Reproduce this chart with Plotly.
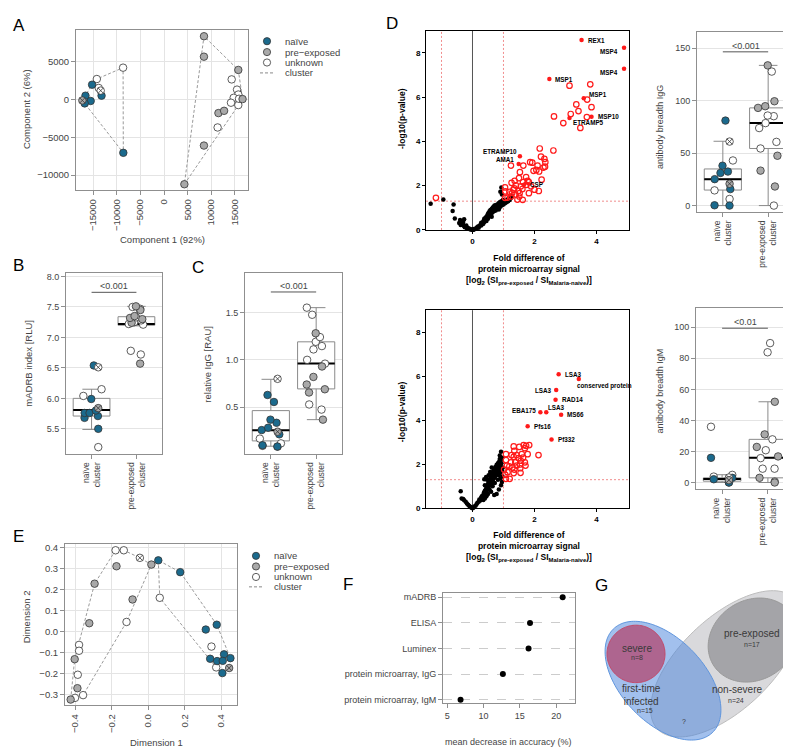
import numpy as np
import plotly.graph_objects as go

W, H = 791, 749
FONT = "Liberation Sans, Arial, sans-serif"
TXT = "#444444"
GL = "#8f8f8f"

# ------------------------------------------------------------------ DATA
# Panel A (PCA)
A_x = [-15200, -16600, -15500, -16760, -13200, -8600,
       8450, 8440, 15700, 16600, 11500, 12700, 8440, 4300,
       -14200, -13800, -8650, 14300, 15430, 15700, 14720, 14150, 15700, 15850, 11330,
       -13380, -17260]
A_y = [1950, 500, -200, -520, 500, -7050,
       8350, 5650, 3900, 50, -1800, -1500, -6090, -11200,
       2700, 1520, 4200, 2650, 1300, 650, 220, -430, -740, 90, -3700,
       1170, -130]
A_grp = ['naive'] * 6 + ['pre'] * 8 + ['unk'] * 11 + ['unk_x', 'pre_x']
A_clu = [1, 1, 1, 1, 1, 1,
         2, 2, 2, 2, 2, 2, 2, 2,
         1, 1, 1, 2, 2, 2, 2, 2, 2, 2, 2,
         1, 1]

# Panel B (mADRB)
B_cat = [1] * 13 + [2] * 16
B_val = [6.15, 6.04, 6.51, 6.54, 5.99, 5.84, 5.80, 5.76, 5.76, 5.71, 5.68, 5.50, 5.20,
         7.50, 7.51, 7.47, 7.32, 7.35, 7.25, 7.21, 6.78, 6.72, 6.57, 7.30, 7.22, 7.45, 7.28, 7.24, 7.33]
B_grp = ['unk', 'unk', 'unk_x', 'naive', 'naive', 'pre_x', 'naive', 'naive', 'naive', 'naive', 'naive', 'naive', 'unk',
         'unk', 'pre', 'unk', 'pre', 'pre', 'unk', 'unk', 'unk', 'unk', 'pre', 'pre', 'unk', 'pre', 'unk', 'pre', 'unk']
B_q1, B_med, B_q3, B_lo, B_hi = [5.71, 7.20], [5.81, 7.22], [6.00, 7.34], [5.49, 7.19], [6.15, 7.51]

# Panel C (relative IgG)
C_cat = [1] * 15 + [2] * 17
C_val = [0.80, 0.63, 0.556, 0.37, 0.337, 0.285, 0.26, 0.243, 0.215, 0.17, 0.12, 0.094, 0.085, 0.087, 0.10,
         1.55, 1.475, 1.28, 1.24, 1.19, 1.145, 1.11, 1.00, 0.96, 0.93, 0.82, 0.74, 0.69, 0.656, 0.53, 0.476, 0.37]
C_grp = ['unk_x', 'naive', 'naive', 'naive', 'naive', 'naive', 'naive', 'pre_x', 'naive', 'unk', 'unk', 'unk', 'unk', 'naive', 'naive',
         'unk', 'unk', 'pre', 'unk', 'unk', 'unk', 'unk', 'unk', 'unk', 'pre', 'pre', 'pre', 'pre', 'pre', 'unk', 'unk', 'pre']
C_q1, C_med, C_q3, C_lo, C_hi = [0.146, 0.694], [0.257, 0.962], [0.465, 1.19], [0.09, 0.37], [0.795, 1.55]

# Panel D right top (antibody breadth IgG)
G1_cat = [1] * 13 + [2] * 15
G1_val = [81, 61, 43, 38, 32.4, 31.1, 25.2, 20.8, 15.7, 14.5, 6.3, 0.3, 0,
          133.6, 127.7, 99.4, 93.1, 94.7, 85.8, 85.2, 78.6, 73.9, 60.7, 54.4, 47.5, 33.3, 18.2, 0]
G1_grp = ['naive', 'unk_x', 'unk', 'naive', 'naive', 'naive', 'naive', 'pre_x', 'naive', 'unk', 'unk', 'naive', 'naive',
          'pre', 'unk', 'pre', 'pre', 'pre', 'unk', 'unk', 'unk', 'unk', 'unk', 'unk', 'pre', 'pre', 'pre', 'unk']
G1_q1, G1_med, G1_q3, G1_lo, G1_hi = [14.8, 54.4], [25.2, 78.6], [34.9, 93.1], [0, 0], [61.3, 133.6]

# Panel D right bottom (antibody breadth IgM)
M1_cat = [1] * 10 + [2] * 14
M1_val = [35.9, 15.9, 2.1, 3.8, 3.0, 0, 0, 1.5, 3.2, 4.9,
          89.8, 83.9, 52, 31, 27.8, 22.9, 20.8, 16.8, 15.7, 8.9, 8.9, 3, 0, 0.6]
M1_grp = ['unk', 'naive', 'naive', 'unk', 'naive', 'naive', 'unk', 'pre_x', 'unk_x', 'unk',
          'unk', 'unk', 'pre', 'pre', 'unk', 'pre', 'unk', 'pre', 'unk', 'unk', 'unk', 'pre', 'pre', 'unk']
M1_q1, M1_med, M1_q3, M1_lo, M1_hi = [0.85, 3.0], [2.3, 15.9], [3.0, 27.8], [0, 0], [5.0, 52]

# Panel D volcano top (IgG)
Dt_black = [(-1.35, 1.18), (-0.94, 1.37), (-0.61, 1.15), (-0.64, 0.85), (-0.57, 0.52), (-0.40, 0.45), (-0.27, 0.48),
            (-0.30, 0.36), (-0.43, 0.31), (-0.35, 0.25), (-0.27, 0.18), (-0.22, 0.14), (-0.16, 0.10), (-0.11, 0.06),
            (-0.05, 0.02), (-0.20, 0.20), (-0.32, 0.30), (-0.38, 0.22), (-0.25, 0.12), (-0.08, 0.03), (-0.14, 0.05),
            (-0.18, 0.08), (0.00, 0.00), (0.03, 0.01), (0.06, 0.03), (0.10, 0.05), (0.02, 0.04),
            (0.12, 0.08), (0.15, 0.12), (0.18, 0.15), (0.20, 0.10), (0.22, 0.18), (0.25, 0.22), (0.28, 0.20),
            (0.30, 0.30), (0.32, 0.26), (0.34, 0.35), (0.36, 0.42), (0.38, 0.36), (0.40, 0.48), (0.42, 0.44),
            (0.42, 0.55), (0.45, 0.60), (0.46, 0.52), (0.48, 0.66), (0.50, 0.58), (0.50, 0.72), (0.52, 0.78),
            (0.54, 0.68), (0.55, 0.84), (0.57, 0.75), (0.58, 0.90), (0.60, 0.82), (0.62, 0.95), (0.63, 0.88),
            (0.65, 1.00), (0.66, 0.92), (0.68, 1.05), (0.70, 0.97), (0.71, 1.10), (0.73, 1.02), (0.75, 1.12),
            (0.76, 0.95), (0.78, 1.06), (0.80, 1.15), (0.82, 1.08), (0.84, 1.20), (0.85, 1.00), (0.87, 1.12),
            (0.88, 1.25), (0.90, 1.05), (0.92, 1.18), (0.93, 1.30), (0.95, 1.12), (0.97, 1.22), (0.98, 1.35),
            (1.00, 1.15), (1.02, 1.28), (1.05, 1.20), (1.08, 1.32), (1.10, 1.25), (1.12, 1.38), (1.15, 1.30),
            (1.18, 1.42), (1.20, 1.35), (1.25, 1.45), (1.28, 1.52), (0.93, 1.92), (0.90, 1.73), (0.95, 1.60),
            (0.45, 0.40), (0.35, 0.28), (0.60, 0.70), (0.70, 0.85), (0.80, 0.95), (0.55, 0.62), (0.65, 0.80),
            (0.75, 0.88), (0.85, 0.92), (0.28, 0.32), (0.38, 0.50), (0.50, 0.50), (0.62, 0.60)]
Dt_open = [(3.13, 6.52), (3.80, 6.58), (3.70, 5.89), (3.84, 5.55), (3.35, 5.67), (3.17, 5.24), (3.42, 5.37),
           (2.63, 5.13), (3.69, 5.10), (2.93, 4.83), (3.48, 4.61), (2.17, 3.68), (2.61, 3.59), (1.24, 2.91),
           (1.64, 2.91), (1.86, 3.06), (1.93, 3.04), (2.21, 3.31), (2.32, 3.21), (2.35, 3.06), (2.10, 2.91),
           (2.29, 2.82), (2.06, 2.71), (2.15, 2.64), (2.34, 2.86), (1.97, 2.67), (1.53, 2.61), (1.50, 2.34),
           (1.36, 2.22), (1.26, 2.13), (1.40, 2.01), (1.73, 2.39), (1.78, 2.22), (1.82, 2.16), (1.74, 2.04),
           (2.23, 2.27), (2.14, 1.76), (1.82, 1.66), (1.61, 1.85), (1.48, 1.76), (1.39, 1.60), (1.51, 1.51),
           (1.05, 1.92), (1.06, 1.74), (1.05, 1.45), (1.13, 1.46), (1.24, 1.51), (1.32, 1.82), (1.45, 1.37),
           (1.62, 1.36), (1.19, 1.72), (1.28, 1.67), (1.52, 1.66), (1.56, 1.97), (1.63, 2.16), (2.00, 1.82),
           (1.89, 1.97), (1.35, 1.88), (-1.18, 1.45)]
Dt_sig = [(3.52, 8.58), (4.89, 8.23), (4.89, 7.29), (2.48, 6.82), (3.59, 5.95), (3.84, 5.12), (3.13, 5.06),
          (1.53, 3.33), (1.49, 2.98), (1.66, 2.04)]
Dt_lab = ["REX1", "MSP4", "MSP4", "MSP1", "MSP1", "MSP10", "ETRAMP5", "ETRAMP10", "AMA1", "CSP"]

# Panel D volcano bottom (IgM)
Db_black = [(-0.38, 0.78), (-0.35, 0.45), (-0.30, 0.42), (-0.27, 0.37), (-0.22, 0.30), (-0.18, 0.22), (-0.14, 0.16),
            (-0.10, 0.10), (-0.06, 0.06), (-0.03, 0.02), (0.00, 0.00), (0.03, 0.03), (0.06, 0.08), (0.10, 0.12),
            (0.13, 0.18), (0.16, 0.25), (0.20, 0.30), (0.22, 0.40), (0.25, 0.35), (0.28, 0.48), (0.30, 0.55),
            (0.32, 0.45), (0.35, 0.62), (0.37, 0.72), (0.38, 0.55), (0.40, 0.80), (0.42, 0.68), (0.44, 0.90),
            (0.45, 0.78), (0.47, 1.00), (0.48, 0.85), (0.50, 1.10), (0.50, 0.95), (0.52, 1.20), (0.53, 1.02),
            (0.55, 1.30), (0.56, 1.12), (0.58, 1.40), (0.58, 1.05), (0.60, 1.22), (0.60, 1.50), (0.62, 1.35),
            (0.63, 1.15), (0.64, 1.60), (0.65, 1.45), (0.66, 1.28), (0.67, 1.70), (0.68, 1.52), (0.70, 1.38),
            (0.70, 1.80), (0.72, 1.60), (0.73, 1.45), (0.74, 1.88), (0.75, 1.70), (0.76, 1.55), (0.78, 1.98),
            (0.78, 1.75), (0.80, 1.60), (0.80, 1.85), (0.82, 2.05), (0.83, 1.70), (0.84, 1.92), (0.85, 1.50),
            (0.86, 2.12), (0.87, 1.78), (0.88, 2.24), (0.90, 1.95), (0.90, 1.62), (0.92, 2.57), (0.93, 2.05),
            (0.95, 1.72), (0.96, 2.30), (0.97, 1.45), (0.98, 1.85), (0.45, 0.55), (0.35, 0.38), (0.55, 0.85),
            (0.65, 1.00), (0.72, 1.15), (0.82, 1.30), (0.90, 1.35), (0.40, 1.05), (0.70, 0.60), (0.78, 0.65),
            (0.85, 0.85), (0.92, 1.05), (0.95, 1.20), (0.60, 0.75), (0.50, 0.65), (0.40, 0.45), (0.88, 2.40),
            (0.91, 2.18), (0.38, 1.32), (0.44, 1.42), (0.47, 1.30), (0.52, 1.50), (0.57, 1.65), (0.62, 1.85)]
Db_open = [(1.33, 2.81), (1.51, 2.79), (1.65, 2.87), (1.73, 2.84), (1.83, 2.87), (1.69, 2.73), (2.13, 2.42),
           (1.78, 2.46), (1.26, 2.42), (1.33, 2.34), (1.42, 2.42), (1.49, 2.28), (1.63, 2.30), (1.56, 2.16),
           (1.69, 2.09), (1.53, 1.99), (1.38, 2.09), (1.24, 2.09), (1.08, 2.19), (1.08, 2.46), (1.11, 1.94),
           (1.02, 1.76), (1.19, 1.91), (1.29, 1.85), (1.35, 1.76), (1.13, 1.64), (1.33, 1.60), (1.55, 1.61),
           (1.71, 1.94), (1.54, 1.82), (1.20, 1.34), (1.08, 1.34), (1.06, 1.52), (1.43, 1.94), (1.59, 2.46),
           (1.35, 2.61)]
Db_sig = [(2.78, 6.09), (3.43, 5.87), (2.70, 5.37), (2.68, 4.93), (2.38, 4.36), (2.19, 4.36), (2.86, 4.25),
          (1.78, 3.73), (2.55, 3.13)]
Db_lab = ["LSA3", "conserved protein", "LSA3", "RAD14", "LSA3", "EBA175", "MS66", "Pfs16", "Pf332"]

# Panel E (MDS)
E_x = [0.056, 0.176, 0.316, 0.376, 0.416, 0.451, 0.34, 0.378, 0.409, 0.407,
       0.018, -0.173, -0.293, -0.085, -0.322, -0.402, -0.387, -0.424,
       -0.178, -0.133, 0.064, -0.118, -0.378, -0.378, -0.385, -0.356, -0.40, 0.347, 0.373,
       -0.045, 0.444]
E_y = [0.338, 0.282, 0.009, 0.032, -0.109, -0.127, -0.13, -0.141, -0.14, -0.198,
       0.318, 0.31, 0.227, 0.152, 0.039, -0.132, -0.27, -0.324,
       0.386, 0.386, 0.16, 0.045, -0.064, -0.092, -0.206, -0.303, -0.316, -0.072, -0.171,
       0.35, -0.174]
E_grp = ['naive'] * 10 + ['pre'] * 8 + ['unk'] * 11 + ['unk_x', 'pre_x']
E_clu = [2] * 10 + [1] * 8 + [1, 1, 2, 1, 1, 1, 1, 1, 1, 2, 2] + [1, 2]

# Panel F (variable importance)
F_labels = ["protein microarray, IgM", "protein microarray, IgG", "Luminex", "ELISA", "mADRB"]
F_values = [6.83, 12.66, 16.2, 16.4, 20.9]

# Panel G (Venn)
G_names = ["non-severe", "pre-exposed", "first-time<br>infected", "severe"]
G_n = [24, 17, 15, 8]

# ------------------------------------------------------------------ STYLE / LAYOUT GEOMETRY
COL = {'naive': '#1b6a8d', 'pre': '#a9a9a9', 'unk': '#ffffff', 'unk_x': '#ffffff', 'pre_x': '#a9a9a9'}
SYM = {'naive': 'circle', 'pre': 'circle', 'unk': 'circle', 'unk_x': 'circle-x', 'pre_x': 'circle-x'}
CAT_TEXT = ["naïve<br>cluster", "pre-exposed<br>cluster"]

# pixel boxes: (left, right, top, bottom)
BOX = {1: (68, 240, 20, 182), 2: (58, 154, 265, 448), 3: (237, 334, 265, 448),
       4: (418, 621, 21, 222), 5: (689, 786, 22, 204), 6: (418, 621, 303, 503),
       7: (688, 786, 301, 484), 8: (57, 229, 539, 702), 9: (435, 567, 589, 700)}


def dom(n):
    l, r, t, b = BOX[n]
    return [l / W, r / W], [1 - b / H, 1 - t / H]


def refs(n):
    return ('x', 'y') if n == 1 else (f'x{n}', f'y{n}')


def gaxis(d, rng, grid=True, size=9.5, **kw):
    a = dict(domain=d, range=rng, showline=True, linecolor=GL, linewidth=1, mirror=True,
             ticks='outside', ticklen=4, tickwidth=1, tickcolor=GL,
             tickfont=dict(family=FONT, size=size, color=TXT), showgrid=grid,
             gridcolor='#e4e4e4', gridwidth=1, zeroline=False, fixedrange=True)
    a.update(kw)
    return a


def vaxis(d, rng, tv):
    return dict(domain=d, range=rng, showline=True, linecolor='black', linewidth=1, mirror=True,
                ticks='outside', ticklen=3, tickcolor='black', tickvals=tv,
                tickfont=dict(family=FONT, size=8, color='black', weight='bold'),
                showgrid=False, zeroline=False)


def hull(pts):
    pts = sorted(set(pts))

    def cross(o, a, b):
        return (a[0] - o[0]) * (b[1] - o[1]) - (a[1] - o[1]) * (b[0] - o[0])
    lower, upper = [], []
    for p in pts:
        while len(lower) >= 2 and cross(lower[-2], lower[-1], p) <= 0:
            lower.pop()
        lower.append(p)
    for p in reversed(pts):
        while len(upper) >= 2 and cross(upper[-2], upper[-1], p) <= 0:
            upper.pop()
        upper.append(p)
    h = lower[:-1] + upper[:-1]
    return h + [h[0]]


fig = go.Figure()


def mk(g, size=7.5):
    return dict(color=COL[g], symbol=SYM[g], size=size, line=dict(color='#333333', width=0.8))


def scatter_panel(n, xs, ys, grp, clu):
    xa, ya = refs(n)
    for c in sorted(set(clu)):
        h = hull([(x, y) for x, y, k in zip(xs, ys, clu) if k == c])
        fig.add_trace(go.Scatter(x=[p[0] for p in h], y=[p[1] for p in h], mode='lines',
                                 line=dict(color='#9a9a9a', width=1, dash='3px,2px'),
                                 xaxis=xa, yaxis=ya, hoverinfo='skip'))
    for g in ['unk', 'pre', 'naive', 'unk_x', 'pre_x']:
        px = [x for x, k in zip(xs, grp) if k == g]
        py = [y for y, k in zip(ys, grp) if k == g]
        fig.add_trace(go.Scatter(x=px, y=py, mode='markers', marker=mk(g), xaxis=xa, yaxis=ya))


def box_panel(n, cat, val, grp, q1, med, q3, lo, hi):
    xa, ya = refs(n)
    fig.add_trace(go.Box(x=[1, 2], q1=q1, median=med, q3=q3, lowerfence=lo, upperfence=hi,
                         width=0.82, whiskerwidth=0.5, fillcolor='white', boxpoints=False,
                         line=dict(color='#8a8a8a', width=1), xaxis=xa, yaxis=ya))
    fig.add_trace(go.Box(x=[1, 2], q1=med, median=med, q3=med, lowerfence=med, upperfence=med,
                         width=0.82, whiskerwidth=0, fillcolor='rgba(0,0,0,0)', boxpoints=False,
                         line=dict(color='black', width=2), xaxis=xa, yaxis=ya))
    for c in (1, 2):
        for g in ['unk', 'pre', 'naive', 'unk_x', 'pre_x']:
            ys = [v for cc, v, gg in zip(cat, val, grp) if cc == c and gg == g]
            if not ys:
                continue
            fig.add_trace(go.Box(x=[c] * len(ys), y=ys, boxpoints='all', jitter=0.7, pointpos=0,
                                 width=0.82, whiskerwidth=0, fillcolor='rgba(0,0,0,0)',
                                 line=dict(color='rgba(0,0,0,0)', width=0),
                                 marker=mk(g, 7.5), xaxis=xa, yaxis=ya))


def volcano(n, black, opn, sig, labs, offs):
    xa, ya = refs(n)
    for xv in (-1, 1):
        fig.add_shape(type='line', xref=xa, yref=f'{ya} domain', x0=xv, x1=xv, y0=0, y1=1, layer='below',
                      line=dict(color='#ee7070', width=0.8, dash='2px,2px'))
    fig.add_shape(type='line', xref=f'{xa} domain', yref=ya, x0=0, x1=1, y0=1.3, y1=1.3, layer='below',
                  line=dict(color='#ee7070', width=0.8, dash='2px,2px'))
    fig.add_shape(type='line', xref=xa, yref=f'{ya} domain', x0=0, x1=0, y0=0, y1=1, layer='below',
                  line=dict(color='#555555', width=1))
    fig.add_trace(go.Scatter(x=[p[0] for p in black], y=[p[1] for p in black], mode='markers',
                             marker=dict(color='black', size=4.5), xaxis=xa, yaxis=ya, cliponaxis=False))
    fig.add_trace(go.Scatter(x=[p[0] for p in opn], y=[p[1] for p in opn], mode='markers',
                             marker=dict(color='#ff1a1a', size=5.5, symbol='circle-open', line=dict(width=1.2)),
                             xaxis=xa, yaxis=ya, cliponaxis=False))
    fig.add_trace(go.Scatter(x=[p[0] for p in sig], y=[p[1] for p in sig], mode='markers',
                             marker=dict(color='#ff1a1a', size=4.5), xaxis=xa, yaxis=ya, cliponaxis=False))
    for (x, y), t, (dx, dy, anc) in zip(sig, labs, offs):
        fig.add_annotation(x=x, y=y, xref=xa, yref=ya, text=t, showarrow=False, xanchor=anc,
                           xshift=dx, yshift=dy, font=dict(family=FONT, size=6.3, color='black', weight='bold'))


scatter_panel(1, A_x, A_y, A_grp, A_clu)
box_panel(2, B_cat, B_val, B_grp, B_q1, B_med, B_q3, B_lo, B_hi)
box_panel(3, C_cat, C_val, C_grp, C_q1, C_med, C_q3, C_lo, C_hi)
volcano(4, Dt_black, Dt_open, Dt_sig, Dt_lab,
        [(4, 0, 'left'), (-4, -4, 'right'), (-4, -4, 'right'), (4, 0, 'left'), (3, 4, 'left'),
         (4, 0, 'left'), (2, -5, 'left'), (-1, 4.5, 'right'), (-2.5, 4, 'right'), (4.5, 0.5, 'left')])
box_panel(5, G1_cat, G1_val, G1_grp, G1_q1, G1_med, G1_q3, G1_lo, G1_hi)
volcano(6, Db_black, Db_open, Db_sig, Db_lab,
        [(4, 0, 'left'), (-3.5, -7, 'left'), (-2.5, 0, 'right'), (4, 0, 'left'), (0, 5, 'left'),
         (-2, 1.5, 'right'), (4, 0, 'left'), (4, 0, 'left'), (4, 0, 'left')])
box_panel(7, M1_cat, M1_val, M1_grp, M1_q1, M1_med, M1_q3, M1_lo, M1_hi)
scatter_panel(8, E_x, E_y, E_grp, E_clu)

fig.add_trace(go.Scatter(x=F_values, y=F_labels, mode='markers', marker=dict(color='black', size=6),
                         xaxis='x9', yaxis='y9'))

# ------------------------------------------------------------------ AXES
L = {}
d = dom(1)
L['xaxis'] = gaxis(d[0], [-18600, 17750], anchor='y', tickvals=[-15000, -10000, -5000, 0, 5000, 10000, 15000],
                   ticktext=['−15000', '−10000', '−5000', '0', '5000', '10000', '15000'], tickangle=-90)
L['yaxis'] = gaxis(d[1], [-12000, 9200], anchor='x', tickvals=[-10000, -5000, 0, 5000],
                   ticktext=['−10000', '−5000', '0', '5000'])
for n, yr, tv in [(2, [5.09, 8.065], [5.5, 6.0, 6.5, 7.0, 7.5, 8.0]),
                  (3, [0.01, 1.92], [0.5, 1.0, 1.5]),
                  (5, [-6.2, 165.6], [0, 50, 100, 150]),
                  (7, [-4.5, 112.3], [0, 20, 40, 60, 80, 100])]:
    d = dom(n)
    L[f'xaxis{n}'] = gaxis(d[0], [0.43, 2.57], grid=False, size=8.5, anchor=f'y{n}', tickvals=[1, 2],
                           ticktext=CAT_TEXT, tickangle=-90)
    fmt = '.1f' if n in (2, 3) else 'd'
    L[f'yaxis{n}'] = gaxis(d[1], yr, anchor=f'x{n}', tickvals=tv, tickformat=fmt, size=9)
for n in (4, 6):
    d = dom(n)
    L[f'xaxis{n}'] = vaxis(d[0], [-1.5, 5.05], [0, 2, 4]) | dict(anchor=f'y{n}')
    L[f'yaxis{n}'] = vaxis(d[1], [0, 9], [0, 2, 4, 6, 8]) | dict(anchor=f'x{n}')
d = dom(8)
L['xaxis8'] = gaxis(d[0], [-0.455, 0.487], anchor='y8', tickvals=[-0.4, -0.2, 0.0, 0.2, 0.4],
                    tickformat='.1f', tickangle=-90)
L['yaxis8'] = gaxis(d[1], [-0.352, 0.416], anchor='x8', tickvals=[-0.3, -0.2, -0.1, 0.0, 0.1, 0.2, 0.3, 0.4],
                    tickformat='.1f')
d = dom(9)
L['xaxis9'] = gaxis(d[0], [4.41, 22.6], grid=False, size=9, anchor='y9', tickvals=[5, 10, 15, 20])
L['yaxis9'] = gaxis(d[1], [-0.15, 4.15], size=9, anchor='x9', type='category', categoryorder='array',
                    categoryarray=F_labels, griddash='dash', gridcolor='#cccccc')

fig.update_layout(width=W, height=H, autosize=False, margin=dict(l=0, r=0, t=0, b=0, pad=0),
                  paper_bgcolor='white', plot_bgcolor='white', showlegend=False, boxmode='overlay',
                  font=dict(family=FONT, color=TXT), **L)


# ------------------------------------------------------------------ TEXT
def ptext(x, y, text, size=9.5, color=TXT, angle=0, xanchor='center', yanchor='middle', bold=False):
    fig.add_annotation(x=x / W, y=1 - y / H, xref='paper', yref='paper', text=text, showarrow=False,
                       textangle=angle, xanchor=xanchor, yanchor=yanchor,
                       font=dict(family=FONT, size=size, color=color, weight='bold' if bold else 'normal'))


for t, x, y in [("A", 3, 16), ("B", 3, 258), ("C", 182, 260), ("D", 376, 14), ("E", 3, 531),
                ("F", 333, 580), ("G", 585, 581)]:
    ptext(x, y, t, size=17, color='black', xanchor='left')

ptext(18, 100, "Component 2 (6%)", angle=-90)
ptext(154, 232, "Component 1 (92%)")
ptext(21, 357, "mADRB index [RLU]", size=9.5, angle=-90)
ptext(200, 357, "relative IgG [RAU]", size=9.5, angle=-90)
ptext(652, 118, "antibody breadth IgG", size=9, angle=-90)
ptext(652, 385, "antibody breadth IgM", size=9, angle=-90)
ptext(18, 613, "Dimension 2", angle=-90)
ptext(148, 739, "Dimension 1")
ptext(501, 739, "mean decrease in accuracy (%)", size=9)
VT = "Fold difference of<br>protein microarray signal<br>[log<sub>2</sub> (SI<sub>pre-exposed</sub> / SI<sub>Malaria-naive</sub>)]"
ptext(521, 262, VT, size=8.5, color='black', bold=True)
ptext(521, 542, VT, size=8.5, color='black', bold=True)
ptext(394, 110, "-log10(p-value)", size=8.5, color='black', angle=-90, bold=True)
ptext(394, 406, "-log10(p-value)", size=8.5, color='black', angle=-90, bold=True)

# significance brackets
for n, yv, txt in [(2, 7.74, "&lt;0.001"), (3, 1.715, "&lt;0.001"), (5, 146.5, "&lt;0.001"), (7, 99.4, "&lt;0.01")]:
    xa, ya = refs(n)
    fig.add_shape(type='line', xref=xa, yref=ya, x0=1, x1=2, y0=yv, y1=yv, line=dict(color='#555555', width=1))
    fig.add_annotation(x=1.5, y=yv, xref=xa, yref=ya, text=txt, showarrow=False, yanchor='bottom', yshift=-1,
                       font=dict(family=FONT, size=9, color=TXT))

# legends for A and E
LEG = [("naïve", 'naive'), ("pre−exposed", 'pre'), ("unknown", 'unk'), ("cluster", None)]
for mx, tx, rows in [(259, 275, [31.5, 42.5, 53, 63.5]), (248, 264, [551, 561.7, 572.3, 582.3])]:
    for (lab, g), ry in zip(LEG, rows):
        if g is None:
            fig.add_shape(type='line', xref='paper', yref='paper', x0=(mx - 7) / W, x1=(mx + 7) / W,
                          y0=1 - ry / H, y1=1 - ry / H, line=dict(color='#8a8a8a', width=1, dash='3px,2px'))
        else:
            fig.add_shape(type='circle', xref='paper', yref='paper', xsizemode='pixel', ysizemode='pixel',
                          xanchor=mx / W, yanchor=1 - ry / H, x0=-3.6, x1=3.6, y0=-3.6, y1=3.6,
                          fillcolor=COL[g], line=dict(color='#333333', width=0.8))
        ptext(tx, ry, lab, size=9.5, xanchor='left')


# Venn diagram (panel G)
def ellipse_path(cx, cy, a, b, ang):
    t = np.linspace(0, 2 * np.pi, 140)
    th = np.radians(ang)
    ex = cx + a * np.cos(t) * np.cos(th) - b * np.sin(t) * np.sin(th)
    ey = cy - (a * np.cos(t) * np.sin(th) + b * np.sin(t) * np.cos(th))
    return "M " + " L ".join(f"{x / W:.5f},{1 - y / H:.5f}" for x, y in zip(ex, ey)) + " Z"


VENN = [(718, 660, 95, 46, 44, 'rgba(185,185,192,0.55)', '#bdbdbd'),
        (745, 636, 47, 40, 35, 'rgba(135,135,140,0.65)', '#9a9a9a'),
        (655, 677, 72, 42, -47, 'rgba(70,130,220,0.5)', '#5f95dd'),
        (628, 650, 29, 29, 0, 'rgba(180,45,85,0.62)', '#c24a6a')]
for cx, cy, a, b, ang, fc, lc in VENN:
    fig.add_shape(type='path', xref='paper', yref='paper', path=ellipse_path(cx, cy, a, b, ang),
                  fillcolor=fc, line=dict(color=lc, width=1))

VLAB = [(729, 686, 728, 697), (744, 629, 744, 640), (633, 691, 637, 707), (629, 645, 629, 654)]
for name, nn, (tx, ty, nx, ny) in zip(G_names, G_n, VLAB):
    ptext(tx, ty, name, size=10, color='#3a3a3a')
    ptext(nx, ny, f"n={nn}", size=7, color='#3a3a3a')
ptext(676, 718, "?", size=7, color='#3a3a3a')

fig.write_html("out.html")
